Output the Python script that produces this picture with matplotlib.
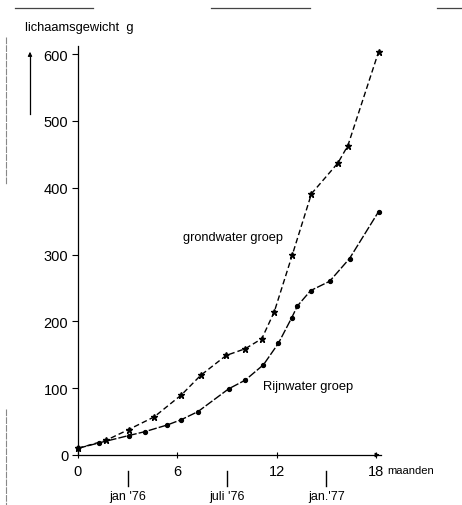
import numpy as np
import matplotlib.pyplot as plt
from matplotlib.lines import Line2D

plt.rcParams['font.family'] = ['Liberation Sans', 'DejaVu Sans']

# grondwater groep (sterretjes)
grond_maand = [0, 1.7, 3.05, 4.6, 6.25, 7.4, 8.95, 10.1, 11.1, 11.85, 12.95, 14.1, 15.7, 16.3, 18.15]
grond_gewicht = [10, 22, 38, 57, 90, 119, 149, 159, 174, 214, 300, 391, 437, 463, 603]

# Rijnwater groep (punten)
rijn_maand = [0, 1.25, 3.05, 4.05, 5.4, 6.25, 7.25, 9.1, 10.1, 11.2, 12.1, 12.9, 13.25, 14.05, 15.2, 16.4, 18.15]
rijn_gewicht = [10, 18, 29, 35, 45, 53, 65, 99, 112, 135, 167, 205, 223, 246, 260, 294, 364]

x_ticks = [0, 6, 12, 18]
y_ticks = [0, 100, 200, 300, 400, 500, 600]
datum_maand = [3, 9, 15]
datum_labels = ["jan '76", "juli '76", "jan.'77"]

fig = plt.figure(figsize=(4.62, 5.06), dpi=100)
ax = fig.add_axes([78 / 462, 50 / 506, 303 / 462, 409 / 506])

ax.plot(grond_maand, grond_gewicht, color='black', lw=1.0, dashes=(4, 2.2),
        marker='*', ms=4.5, clip_on=False)
ax.plot(rijn_maand, rijn_gewicht, color='black', lw=1.0, dashes=(6, 1.5),
        marker='o', ms=2.8, clip_on=False)

ax.set_xlim(0, 18.3)
ax.set_ylim(0, 612)
ax.set_xticks(x_ticks)
ax.set_yticks(y_ticks)
ax.spines['top'].set_visible(False)
ax.spines['right'].set_visible(False)
ax.tick_params(axis='y', direction='out', length=4, width=0.8, labelsize=10.5, pad=3)
ax.tick_params(axis='x', direction='inout', length=5, width=0.8, labelsize=10.5, pad=4)
for s in ['left', 'bottom']:
    ax.spines[s].set_linewidth(0.9)

# pijl aan het eind van de x-as
ax.annotate('', xy=(18.4, 0), xytext=(17.9, 0), xycoords='data',
            arrowprops=dict(arrowstyle='-|>', color='black', lw=0.9,
                            mutation_scale=6), annotation_clip=False)

trans = ax.get_xaxis_transform()
ax.text(18.66, -0.036, 'maanden', transform=trans, fontsize=8,
        va='center', ha='left')

# datums onder de as
for m, lab in zip(datum_maand, datum_labels):
    ax.add_line(Line2D([m, m], [-0.04, -0.077], transform=trans, color='black',
                       lw=1.0, clip_on=False))
    ax.text(m, -0.10, lab, transform=trans, fontsize=9, ha='center', va='center')

ax.text(12.4, 0.533, 'grondwater groep', transform=trans, fontsize=9.2,
        ha='right', va='center')
ax.text(11.15, 0.168, 'Rijnwater groep', transform=trans, fontsize=9.3,
        ha='left', va='center')

fig.text(25 / 462, 1 - 28 / 506, 'lichaamsgewicht  g', fontsize=9.3,
         ha='left', va='center')

# pijl links naast de y-as
fig.add_artist(Line2D([30 / 462, 30 / 462], [1 - 115 / 506, 1 - 58 / 506],
                      transform=fig.transFigure, color='black', lw=0.9))
ax.annotate('', xy=(30 / 462, 1 - 50 / 506), xytext=(30 / 462, 1 - 60 / 506),
            xycoords='figure fraction',
            arrowprops=dict(arrowstyle='-|>', color='black', lw=0.8, mutation_scale=6))

# randen van de scan
for x0, x1 in [(15, 93), (211, 310), (437, 462)]:
    fig.add_artist(Line2D([x0 / 462, x1 / 462], [1 - 9 / 506, 1 - 9 / 506],
                          transform=fig.transFigure, color='#444444', lw=0.9))
for y0, y1 in [(38, 185), (410, 506)]:
    fig.add_artist(Line2D([6 / 462, 6 / 462], [1 - y0 / 506, 1 - y1 / 506],
                          transform=fig.transFigure, color='#888888', lw=0.8,
                          dashes=(6, 1)))

fig.savefig('out.png', dpi=100)
